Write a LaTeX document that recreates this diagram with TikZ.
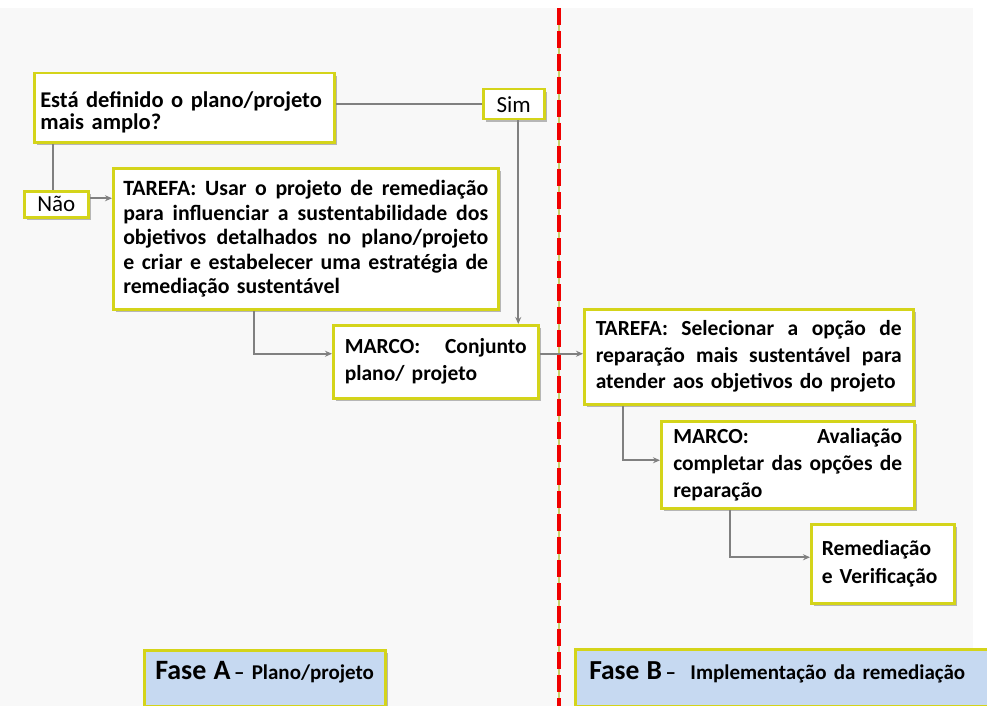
\documentclass[tikz,border=0pt]{standalone}
\usepackage{fontspec}
\setmainfont{Carlito}
\usetikzlibrary{arrows.meta,shadows}
\definecolor{boxy}{HTML}{D4D41A}
\definecolor{connc}{HTML}{808080}
\definecolor{bgc}{HTML}{F8F8F8}
\definecolor{fasec}{HTML}{C6D9F1}
\definecolor{redl}{HTML}{F00000}
\definecolor{greenl}{HTML}{C8D26E}
\newcommand\jl[2]{\makebox[#1][s]{\spaceskip=\fontdimen2\font plus 1fil\relax #2}}
\begin{document}
\begin{tikzpicture}[x=1pt,y=-1pt,
  box/.style={draw=boxy, line width=2.5pt, fill=white, inner sep=0pt, anchor=north west,
    drop shadow={shadow xshift=2.5pt,shadow yshift=-2.5pt,fill=black!50,opacity=0.55},
    font=\fontsize{21.5}{26.5}\selectfont\bfseries, align=left},
  smallbox/.style={box, font=\fontsize{23}{26}\selectfont, align=center},
  fasebox/.style={box, fill=fasec, align=left, text height=20pt, text depth=17pt},
  conn/.style={draw=connc, line width=1.8pt, -{Stealth[length=7pt,width=6pt]}},
  plain/.style={draw=connc, line width=1.8pt}]
\useasboundingbox (0,0) rectangle (987,706);
\fill[white] (0,0) rectangle (987,706);
\fill[bgc] (0,8) rectangle (973,706);

% nodes
\node[box, minimum width=300pt, minimum height=69pt, text width=288pt, inner xsep=6pt,
  text height=20pt, text depth=21pt,
  font=\fontsize{22.5}{22.5}\selectfont\bfseries] (q) at (33,72)
  {Está definido o plano/projeto\\mais amplo?};
\node[smallbox, minimum width=61pt, minimum height=30pt] (sim) at (482,88) {Sim};
\node[smallbox, minimum width=64pt, minimum height=26pt] (nao) at (23,190) {Não};
\node[box, minimum width=385pt, minimum height=141pt, text width=365pt, inner xsep=10pt,
  font=\fontsize{21.8}{24.5}\selectfont\bfseries] (t1) at (112,167)
  {\jl{365pt}{TAREFA: Usar o projeto de remediação}\\
   \jl{365pt}{para influenciar a sustentabilidade dos}\\
   \jl{365pt}{objetivos detalhados no plano/projeto}\\
   \jl{365pt}{e criar e estabelecer uma estratégia de}\\
   remediação sustentável};
\node[box, minimum width=205pt, minimum height=73pt, text width=182pt, inner xsep=10pt,
  font=\fontsize{21.5}{27}\selectfont\bfseries] (m1) at (332,324)
  {\jl{182pt}{MARCO: Conjunto}\\plano/ projeto};
\node[box, minimum width=329pt, minimum height=95pt, text width=306pt, inner xsep=11.5pt,
  font=\fontsize{21.5}{26.5}\selectfont\bfseries] (t2) at (583,308)
  {\jl{306pt}{TAREFA: Selecionar a opção de}\\
   \jl{306pt}{reparação mais sustentável para}\\
   atender aos objetivos do projeto};
\node[box, minimum width=253pt, minimum height=87pt, text width=229pt, inner xsep=12pt,
  font=\fontsize{21.5}{27}\selectfont\bfseries] (av) at (660,420)
  {\jl{229pt}{MARCO: Avaliação}\\
   \jl{229pt}{completar das opções de}\\
   reparação};
\node[box, minimum width=143pt, minimum height=79pt, text width=122pt, inner xsep=10.5pt,
  font=\fontsize{21.5}{28}\selectfont\bfseries] (rem) at (810,523)
  {Remediação\\e Verificação};
\node[fasebox, minimum width=241pt, minimum height=56pt, text width=219pt, inner xsep=11pt] (fa) at (143,649)
  {\mbox{{\fontsize{28}{30}\selectfont\bfseries Fase A}\,{\fontsize{21}{22}\selectfont\bfseries – Plano/projeto}}};
\node[fasebox, minimum width=406pt, minimum height=57pt, text width=392pt, inner xsep=14pt] (fb) at (574,648)
  {\mbox{{\fontsize{27.5}{30}\selectfont\bfseries Fase B}\,{\fontsize{21}{22}\selectfont\bfseries –\ \ Implementação da remediação}}};

% red dashed divider
\draw[greenl, line width=1.2pt] (559,8) -- (559,706);
\draw[redl, line width=4.5pt, dash pattern=on 17pt off 6pt] (559,8) -- (559,706);

% connectors
\draw[plain] (q.east |- sim.west) -- (sim.west);
\draw[plain] ([xshift=-3pt]nao.north) -- ([xshift=-3pt]nao.north |- q.south);
\draw[conn] ([yshift=6pt]nao.east) -- ([yshift=6pt]nao.east -| t1.west);
\draw[conn] ([xshift=4.5pt]sim.south) -- ([xshift=4.5pt]sim.south |- m1.north);
\draw[conn] ([xshift=-51.5pt]t1.south) |- ([yshift=8pt]m1.west);
\draw[conn] ([yshift=8pt]m1.east) -- ([yshift=8pt]m1.east -| t2.west);
\draw[conn] ([xshift=-125.5pt]t2.south) |- ([yshift=4.5pt]av.west);
\draw[conn] ([xshift=-57.5pt]av.south) |- ([yshift=6.5pt]rem.west);
\end{tikzpicture}
\end{document}
